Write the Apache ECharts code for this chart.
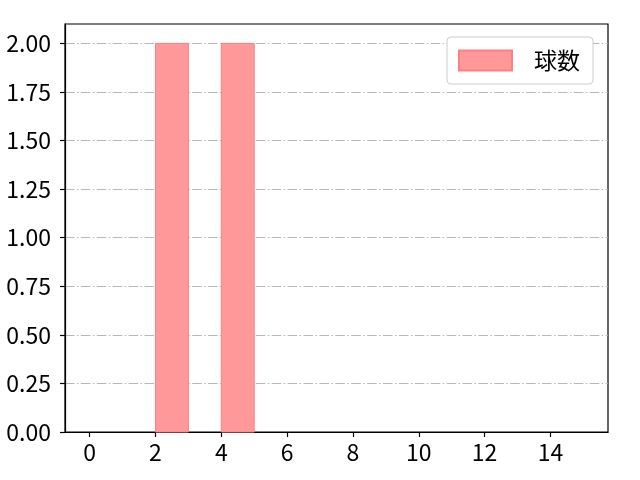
<!DOCTYPE html>
<html>
<head>
<meta charset="utf-8">
<script src="https://cdn.jsdelivr.net/npm/echarts@6/dist/echarts.min.js"></script>
<style>html,body{margin:0;padding:0;background:#fff;}#c{width:640px;height:480px;}</style>
</head>
<body>
<div id="c"></div>
<script>
var seriesName = '球数';
var binStarts = [0,1,2,3,4,5,6,7,8,9,10,11,12,13,14];
var binWidth = 1;
var counts = [0,0,2,0,2,0,0,0,0,0,0,0,0,0,0];
var xTicks = [0,2,4,6,8,10,12,14];
var yTicks = [0,0.25,0.5,0.75,1.0,1.25,1.5,1.75,2.0];

var data = [];
for (var i = 0; i < binStarts.length; i++) {
  if (counts[i] > 0) data.push([binStarts[i], binStarts[i] + binWidth, counts[i]]);
}
var font = 'Noto Sans CJK JP';
var chart = echarts.init(document.getElementById('c'), null, {renderer: 'canvas'});
chart.setOption({
  animation: false,
  backgroundColor: '#fff',
  grid: {left: 65, right: 32, top: 24, bottom: 48, show: true, borderColor: '#000', borderWidth: 1.2, backgroundColor: 'transparent'},
  legend: {
    show: true, left: 447, top: 37, orient: 'vertical',
    padding: [12, 13, 12, 11],
    itemWidth: 53, itemHeight: 20,
    borderColor: '#cccccc', borderWidth: 1, borderRadius: 4,
    backgroundColor: '#fff',
    icon: 'rect',
    textStyle: {fontFamily: font, fontSize: 23, color: '#000', padding: [0, 0, 0, 17]},
    data: [seriesName]
  },
  xAxis: {
    type: 'value', min: -0.75, max: 15.75,
    axisLine: {show: true, onZero: false, lineStyle: {color: '#000', width: 1.2}},
    axisTick: {show: true, length: 5, lineStyle: {color: '#000', width: 1.2}, customValues: xTicks},
    axisLabel: {customValues: xTicks, color: '#000', fontFamily: font, fontSize: 23, margin: 9},
    splitLine: {show: false}
  },
  yAxis: {
    type: 'value', min: 0, max: 2.1,
    axisLine: {show: true, onZero: false, lineStyle: {color: '#000', width: 1.2}},
    axisTick: {show: true, length: 5, lineStyle: {color: '#000', width: 1.2}, customValues: yTicks},
    axisLabel: {customValues: yTicks, color: '#000', fontFamily: font, fontSize: 23, margin: 14,
      formatter: function (v) { return v.toFixed(2); }},
    splitLine: {show: true, lineStyle: {color: '#b0b0b0', width: 0.9, type: [9.6, 2.4, 1.5, 2.4]}}
  },
  series: [{
    name: seriesName,
    type: 'custom',
    itemStyle: {color: '#ff9999', borderColor: '#ff8080', borderWidth: 1},
    renderItem: function (params, api) {
      var p0 = api.coord([api.value(0), 0]);
      var p1 = api.coord([api.value(1), api.value(2)]);
      return {
        type: 'rect',
        shape: {x: p0[0], y: p1[1], width: p1[0] - p0[0], height: p0[1] - p1[1]},
        style: {fill: '#ff9999', stroke: '#ff8080', lineWidth: 1}
      };
    },
    encode: {x: [0, 1], y: 2},
    data: data,
    z: 1
  }]
});
</script>
</body>
</html>
